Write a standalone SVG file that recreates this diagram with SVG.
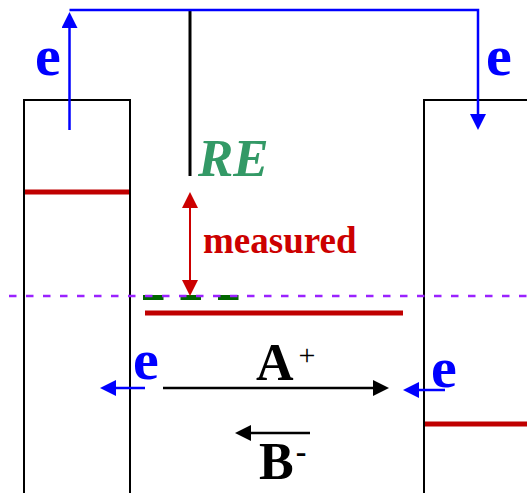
<svg xmlns="http://www.w3.org/2000/svg" width="527" height="493" viewBox="0 0 527 493">
  <style>
    .box { fill: none; stroke: #000; stroke-width: 2; }
    .redbar { stroke: #c00000; stroke-width: 5; }
    .wire { fill: none; stroke: #0000ff; stroke-width: 2.5; }
    .blk { fill: none; stroke: #000; stroke-width: 2.5; }
    .red { fill: none; stroke: #cc0000; stroke-width: 2; }
    .lbl { font-family: "Liberation Serif", "Times New Roman", serif; font-weight: bold; }
    .e { fill: #0000ff; font-size: 58px; }
  </style>
  <defs>
    <marker id="ab" markerUnits="userSpaceOnUse" markerWidth="16" markerHeight="16" refX="5" refY="8" orient="auto-start-reverse" viewBox="0 0 16 16">
      <path d="M0,0 L16,8 L0,16 z" fill="#0000ff"/>
    </marker>
    <marker id="ak" markerUnits="userSpaceOnUse" markerWidth="16" markerHeight="16" refX="5" refY="8" orient="auto-start-reverse" viewBox="0 0 16 16">
      <path d="M0,0 L16,8 L0,16 z" fill="#000"/>
    </marker>
    <marker id="ar" markerUnits="userSpaceOnUse" markerWidth="16" markerHeight="16" refX="5" refY="8" orient="auto-start-reverse" viewBox="0 0 16 16">
      <path d="M0,0 L16,8 L0,16 z" fill="#cc0000"/>
    </marker>
  </defs>
  <rect width="527" height="493" fill="#fff"/>

  <g id="left-electrode">
    <path class="box" d="M24,494 V100 H130 V494"/>
    <line class="redbar" x1="25" y1="192" x2="129" y2="192"/>
  </g>

  <g id="right-electrode">
    <path class="box" d="M424,494 V100 H528"/>
    <line class="redbar" x1="425" y1="424" x2="527" y2="424"/>
  </g>

  <g id="reference-electrode">
    <line x1="190" y1="10" x2="190" y2="176" stroke="#000" stroke-width="3"/>
    <text class="lbl" x="198" y="176" font-size="53" font-style="italic" fill="#339966">RE</text>
  </g>

  <g id="working-level">
    <line x1="143" y1="297.5" x2="239" y2="297.5" stroke="#006600" stroke-width="5" stroke-dasharray="20.5 17"/>
    <line x1="9" y1="296" x2="527" y2="296" stroke="#9a22ff" stroke-width="2.5" stroke-dasharray="7.5 9.5"/>
    <line class="redbar" x1="145" y1="313" x2="403" y2="313"/>
  </g>

  <g id="connectors">
    <path class="wire" d="M69.5,10 H478 V119" marker-end="url(#ab)"/>
    <line class="wire" x1="69.5" y1="130" x2="69.5" y2="23" marker-end="url(#ab)"/>
    <line class="red" x1="190" y1="203" x2="190" y2="285" marker-start="url(#ar)" marker-end="url(#ar)"/>
    <line class="blk" x1="163" y1="388" x2="378" y2="388" marker-end="url(#ak)"/>
    <line class="blk" x1="310" y1="433" x2="246" y2="433" marker-end="url(#ak)"/>
    <line class="wire" x1="145" y1="388" x2="111" y2="388" marker-end="url(#ab)"/>
    <line class="wire" x1="445" y1="390" x2="414" y2="390" marker-end="url(#ab)"/>
  </g>

  <g id="labels">
    <text class="lbl e" x="35" y="75">e</text>
    <text class="lbl e" x="486" y="75">e</text>
    <text class="lbl e" x="133" y="379">e</text>
    <text class="lbl e" x="431" y="387">e</text>
    <text class="lbl" x="203" y="253" font-size="37" fill="#cc0000">measured</text>
    <text class="lbl" x="256" y="380" font-size="52" fill="#000">A<tspan dx="5" dy="-15" font-size="30" font-weight="normal">+</tspan></text>
    <text class="lbl" x="259" y="479" font-size="52" fill="#000">B<tspan dx="2" dy="-17" font-size="32">-</tspan></text>
  </g>
</svg>
